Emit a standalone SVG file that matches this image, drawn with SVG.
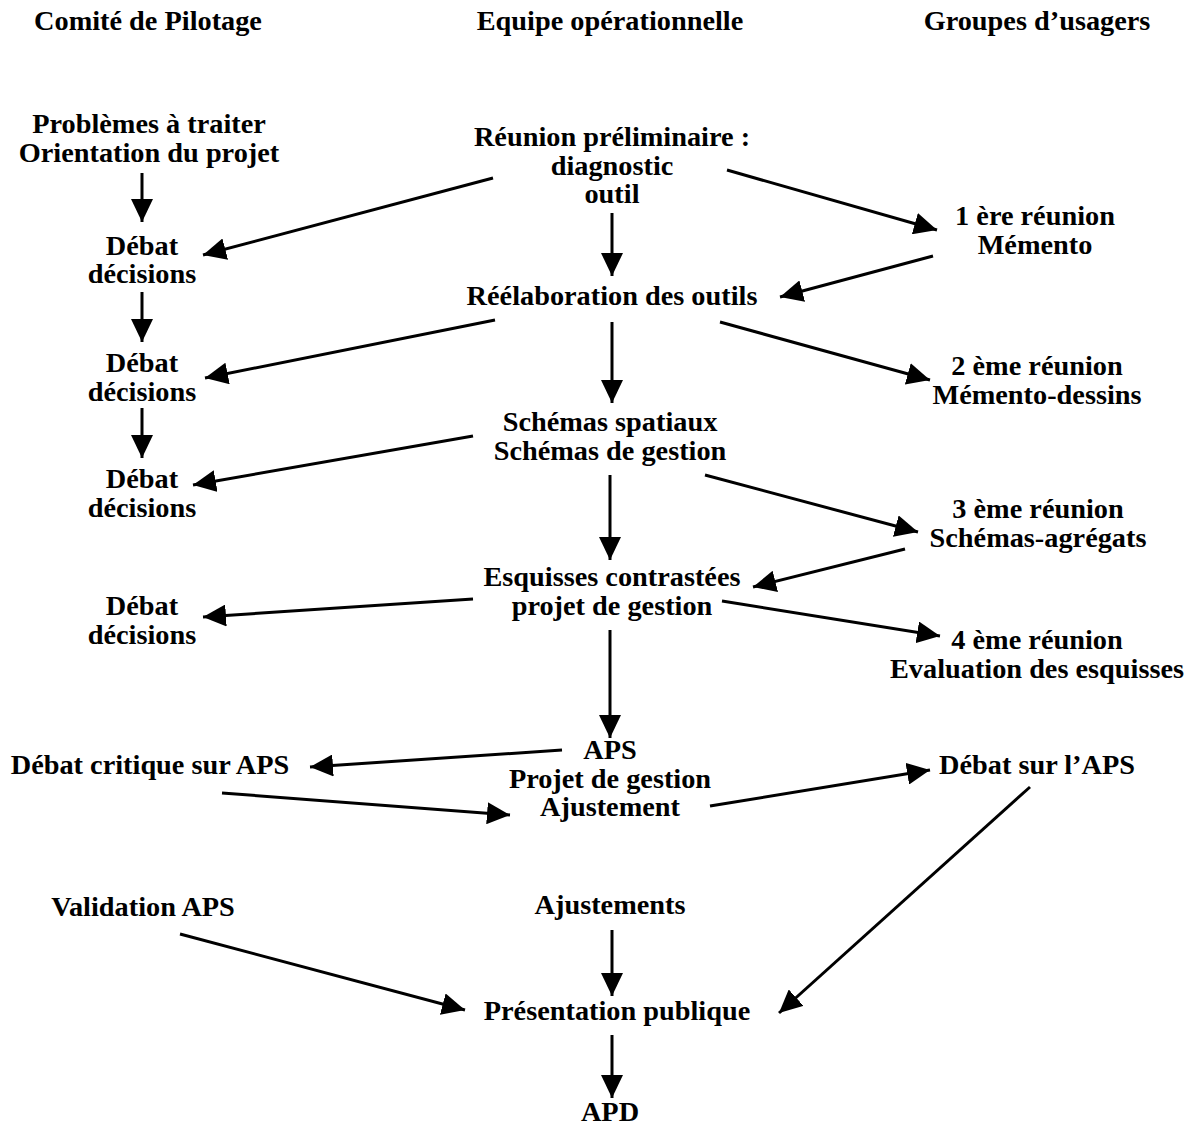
<svg xmlns="http://www.w3.org/2000/svg" width="1196" height="1128" viewBox="0 0 1196 1128">
<style>
text{font-family:"Liberation Serif","Times New Roman",serif;font-weight:bold;font-size:28.3px;fill:#000;text-anchor:middle}
.c line{stroke:#000;stroke-width:3;marker-end:url(#ah)}
</style>
<defs>
<marker id="ah" markerUnits="userSpaceOnUse" markerWidth="24" markerHeight="22" refX="23" refY="11" orient="auto" viewBox="0 0 24 22">
<path d="M0,0 L23,11 L0,22 Z" fill="#000"/>
</marker>
</defs>
<rect width="1196" height="1128" fill="#fff"/>
<g id="headers">
<text x="148" y="30">Comité de Pilotage</text>
<text x="610" y="30">Equipe opérationnelle</text>
<text x="1037" y="30">Groupes d’usagers</text>
</g>
<g id="n-problemes"><text x="149" y="133">Problèmes à traiter</text><text x="149" y="162">Orientation du projet</text></g>
<g id="n-reunion"><text x="612" y="146">Réunion préliminaire :</text><text x="612" y="175">diagnostic</text><text x="612" y="203">outil</text></g>
<g id="n-debat1"><text x="142" y="255">Débat</text><text x="142" y="283">décisions</text></g>
<g id="n-1ere"><text x="1035" y="225">1 ère réunion</text><text x="1035" y="254">Mémento</text></g>
<g id="n-reelab"><text x="612" y="305">Réélaboration des outils</text></g>
<g id="n-debat2"><text x="142" y="372">Débat</text><text x="142" y="401">décisions</text></g>
<g id="n-2eme"><text x="1037" y="375">2 ème réunion</text><text x="1037" y="404">Mémento-dessins</text></g>
<g id="n-schemas"><text x="610" y="431">Schémas spatiaux</text><text x="610" y="460">Schémas de gestion</text></g>
<g id="n-debat3"><text x="142" y="488">Débat</text><text x="142" y="517">décisions</text></g>
<g id="n-3eme"><text x="1038" y="518">3 ème réunion</text><text x="1038" y="547">Schémas-agrégats</text></g>
<g id="n-esquisses"><text x="612" y="586">Esquisses contrastées</text><text x="612" y="615">projet de gestion</text></g>
<g id="n-debat4"><text x="142" y="615">Débat</text><text x="142" y="644">décisions</text></g>
<g id="n-4eme"><text x="1037" y="649">4 ème réunion</text><text x="1037" y="678">Evaluation des esquisses</text></g>
<g id="n-aps"><text x="610" y="759">APS</text><text x="610" y="788">Projet de gestion</text><text x="610" y="816">Ajustement</text></g>
<g id="n-debatcritique"><text x="150" y="774">Débat critique sur APS</text></g>
<g id="n-debatsuraps"><text x="1037" y="774">Débat sur l’APS</text></g>
<g id="n-validation"><text x="143" y="916">Validation APS</text></g>
<g id="n-ajustements"><text x="610" y="914">Ajustements</text></g>
<g id="n-presentation"><text x="617" y="1020">Présentation publique</text></g>
<g id="n-apd"><text x="610" y="1121">APD</text></g>
<g id="connectors" class="c">
<line x1="142" y1="173" x2="142" y2="222"/>
<line x1="493" y1="178" x2="203" y2="255"/>
<line x1="612" y1="213" x2="612" y2="276"/>
<line x1="727" y1="170" x2="937" y2="230"/>
<line x1="933" y1="256" x2="780" y2="297"/>
<line x1="142" y1="292" x2="142" y2="342"/>
<line x1="495" y1="320" x2="205" y2="378"/>
<line x1="612" y1="322" x2="612" y2="403"/>
<line x1="720" y1="322" x2="930" y2="380"/>
<line x1="142" y1="408" x2="142" y2="458"/>
<line x1="473" y1="436" x2="193" y2="485"/>
<line x1="610" y1="475" x2="610" y2="560"/>
<line x1="705" y1="475" x2="918" y2="532"/>
<line x1="905" y1="549" x2="753" y2="587"/>
<line x1="473" y1="599" x2="203" y2="617"/>
<line x1="722" y1="601" x2="940" y2="636"/>
<line x1="610" y1="630" x2="610" y2="738"/>
<line x1="562" y1="750" x2="310" y2="767"/>
<line x1="222" y1="793" x2="510" y2="815"/>
<line x1="710" y1="806" x2="930" y2="770"/>
<line x1="1030" y1="787" x2="779" y2="1013"/>
<line x1="180" y1="934" x2="465" y2="1010"/>
<line x1="612" y1="930" x2="612" y2="996"/>
<line x1="612" y1="1035" x2="612" y2="1098"/>
</g>
</svg>
